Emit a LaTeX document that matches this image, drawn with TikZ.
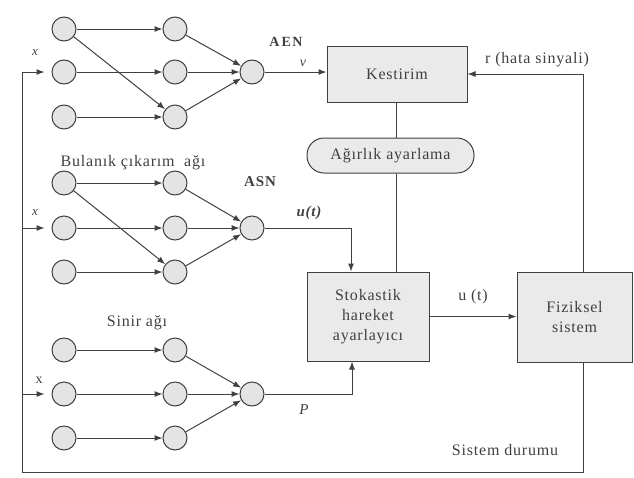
\documentclass[tikz,border=0pt]{standalone}
\usepackage{fontspec}
\setmainfont{Liberation Serif}[LetterSpace=5]
\usetikzlibrary{arrows.meta}
\definecolor{ink}{HTML}{404040}
\definecolor{cellfill}{HTML}{E4E4E4}
\definecolor{boxfill}{HTML}{EAEAEA}
\begin{document}
\begin{tikzpicture}[x=1pt,y=-1pt,
  neuron/.style={circle, draw=ink, fill=cellfill, minimum size=24pt, inner sep=0pt, line width=1pt},
  block/.style={rectangle, draw=ink, fill=boxfill, line width=1pt, align=center, text=ink,
                font=\fontsize{16}{20}\selectfont, inner sep=0pt},
  wire/.style={draw=ink, line width=1pt},
  arr/.style={wire, -{Latex[length=8pt,width=6pt]}},
  lbl/.style={text=ink, inner sep=0pt, font=\fontsize{16}{18}\selectfont},
]
\useasboundingbox (0,0) rectangle (634,477);

% ---- three small networks: input column, hidden column, output unit
\foreach \n/\ya/\yb/\yc/\yo in {a/29/72/117/72, b/183/228/272/228, c/350/394/438/394}{
  \node[neuron] (\n11) at (64,\ya) {};
  \node[neuron] (\n12) at (64,\yb) {};
  \node[neuron] (\n13) at (64,\yc) {};
  \node[neuron] (\n21) at (175,\ya) {};
  \node[neuron] (\n22) at (175,\yb) {};
  \node[neuron] (\n23) at (175,\yc) {};
  \node[neuron] (\n3) at (252,\yo) {};
  \draw[arr] (\n11) -- (\n21);
  \draw[arr] (\n12) -- (\n22);
  \draw[arr] (\n13) -- (\n23);
  \draw[arr] (\n21) -- (\n3);
  \draw[arr] (\n22) -- (\n3);
  \draw[arr] (\n23) -- (\n3);
}
% cross links in the first two networks
\draw[arr] (a11) -- (a23);
\draw[arr] (b11) -- (b23);

% ---- blocks
\node[block, minimum width=140pt, minimum height=56pt] (kest) at (397,74) {Kestirim};
\node[block, rounded corners=17pt, minimum width=167pt, minimum height=35pt] (agr) at (390.5,155.5) {Ağırlık ayarlama};
\node[block, minimum width=122pt, minimum height=89pt] (stok) at (368,316.5) {Stokastik\\hareket\\ayarlayıcı};
\node[block, minimum width=115pt, minimum height=90pt] (fiz) at (574.5,317) {Fiziksel\\sistem};

% ---- routing coordinates
\coordinate (rx) at (583,0);
\coordinate (fb) at (22,472);
\coordinate (mx) at (396,0);
\coordinate (ux) at (351,0);
\coordinate (px) at (352,0);

% ---- connectors
\draw[arr] (a3) -- (a3 -| kest.west);
\draw[arr] (b3) -| (ux |- stok.north);
\draw[arr] (c3) -| (px |- stok.south);
\draw[wire] (mx |- kest.south) -- (mx |- agr.north);
\draw[wire] (mx |- agr.south) -- (mx |- stok.north);
\draw[arr] (stok.east) -- (stok.east -| fiz.west);
\draw[arr] (rx |- fiz.north) |- (kest.east);
\draw[arr, shorten >=7pt] (rx |- fiz.south) |- (fb) |- (a12);
\draw[arr, shorten >=7pt] (fb |- b12) -- (b12);
\draw[arr, shorten >=7pt] (fb |- c12) -- (c12);

% ---- labels
\node[lbl, font=\fontsize{14}{16}\selectfont\bfseries] (aen) at (286,42) {A\kern2pt E\kern1.5pt N};
\node[lbl, font=\fontsize{15}{17}\selectfont\bfseries] (asn) at (260,182) {A\kern1pt S\kern1pt N};
\node[lbl, font=\fontsize{13}{15}\selectfont\itshape] (x1) at (35,53) {x};
\node[lbl, font=\fontsize{13}{15}\selectfont\itshape] (x2) at (35,213) {x};
\node[lbl, font=\fontsize{14}{16}\selectfont] (x3) at (39,380) {x};
\node[lbl, font=\fontsize{14}{16}\selectfont\itshape] (vl) at (303,63) {v};
\node[lbl, font=\fontsize{15}{17}\selectfont\itshape\bfseries] (ul) at (309,213) {u(t)};
\node[lbl, font=\fontsize{15}{17}\selectfont\itshape] (pl) at (304,410) {P};
\node[lbl] (rl) at (537,60) {r (hata sinyali)};
\node[lbl] (ut) at (473,297) {u (t)};
\node[lbl] (sd) at (505,450) {Sistem durumu};
\node[lbl] (sa) at (137,323) {Sinir ağı};
\node[lbl] (bc) at (133,163) {Bulanık çıkarım\ \ ağı};
\end{tikzpicture}
\end{document}
